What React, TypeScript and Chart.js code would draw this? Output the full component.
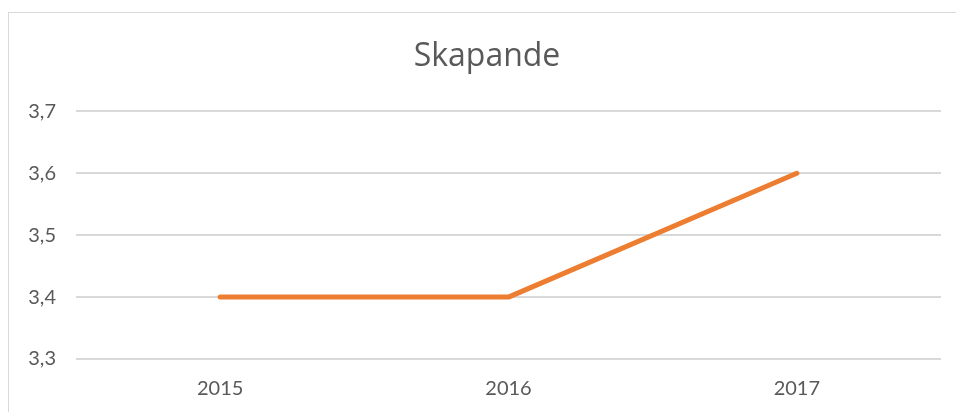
import React, { useEffect, useRef } from "react";
import { Chart, registerables } from "chart.js";

Chart.register(...registerables);

const categories = ["2015", "2016", "2017"];
const values = [3.4, 3.4, 3.6];
const yMin = 3.3;
const yMax = 3.7;
const yStep = 0.1;
const title = "Skapande";

const FONT = "Lato, 'Open Sans', sans-serif";
const TITLE_FONT = "'Open Sans', Lato, sans-serif";

export default function App() {
  const ref = useRef<HTMLCanvasElement | null>(null);

  useEffect(() => {
    if (!ref.current) return;
    const chart = new Chart(ref.current, {
      type: "line",
      data: {
        labels: categories,
        datasets: [
          {
            data: values,
            borderColor: "#ED7D31",
            backgroundColor: "#ED7D31",
            borderWidth: 5,
            borderCapStyle: "round",
            borderJoinStyle: "round",
            pointRadius: 0,
            tension: 0,
            yAxisID: "y",
          },
        ],
      },
      options: {
        animation: false,
        responsive: false,
        layout: { padding: { top: 25, right: 0, bottom: 14, left: 0 } },
        plugins: {
          legend: { display: false },
          tooltip: { enabled: false },
          title: {
            display: true,
            text: title,
            color: "#595959",
            font: { family: TITLE_FONT, size: 32, weight: "normal" },
            padding: { top: 0, bottom: 35 },
          },
        },
        scales: {
          x: {
            offset: true,
            grid: { display: false, drawTicks: false },
            border: { display: false },
            ticks: {
              color: "#595959",
              font: { family: FONT, size: 20 },
              padding: 18,
              maxRotation: 0,
            },
            afterFit: (s: any) => {
              s.height = 40;
            },
          },
          y: {
            position: "left",
            min: yMin,
            max: yMax,
            grid: { color: "#d9d9d9", lineWidth: 2, drawTicks: false },
            border: { display: false },
            ticks: {
              stepSize: yStep,
              color: "#595959",
              font: { family: FONT, size: 20 },
              padding: 20,
              callback: (v: any) => Number(v).toFixed(1).replace(".", ","),
            },
            afterFit: (s: any) => {
              s.width = 67;
            },
          },
          yRight: {
            type: "linear",
            position: "right",
            display: true,
            min: 0,
            max: 1,
            grid: { display: false, drawTicks: false },
            border: { display: false },
            ticks: { display: false },
            afterFit: (s: any) => {
              s.width = 24;
            },
          },
        },
      },
    });
    return () => chart.destroy();
  }, []);

  return (
    <div
      style={{
        position: "fixed",
        left: 0,
        top: 0,
        width: 956,
        height: 412,
        overflow: "hidden",
        background: "#ffffff",
      }}
    >
      <div
        style={{
          position: "absolute",
          left: 8,
          top: 12,
          width: 958,
          height: 420,
          borderTop: "1px solid #d9d9d9",
          borderLeft: "1px solid #d9d9d9",
          borderRight: "1px solid #d9d9d9",
          boxSizing: "border-box",
        }}
      >
        <canvas
          ref={ref}
          width={956}
          height={400}
          style={{ position: "absolute", left: 0, top: 0, display: "block" }}
        />
      </div>
    </div>
  );
}
